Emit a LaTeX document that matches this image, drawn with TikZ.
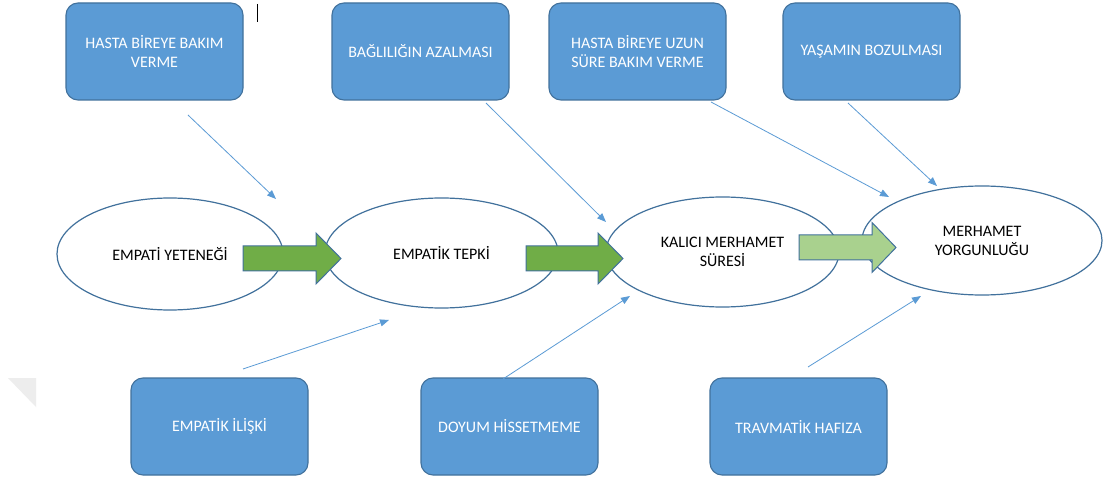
\documentclass[tikz,border=0pt]{standalone}
\usepackage{fontspec}
\setmainfont{Carlito}
\usetikzlibrary{shapes.geometric,arrows.meta}
\definecolor{boxblue}{HTML}{5B9BD5}
\definecolor{edgeblue}{HTML}{41719C}
\definecolor{darkgreen}{HTML}{70AD47}
\definecolor{lightgreen}{HTML}{A9D18E}
\definecolor{shadowgray}{HTML}{EDEDED}
\tikzset{
  causebox/.style={draw=edgeblue, line width=1.1pt, fill=boxblue, rounded corners=12pt,
    minimum width=177pt, minimum height=97pt, inner sep=4pt, align=center,
    text=white, font=\fontsize{16}{19}\selectfont},
  stagebox/.style={ellipse, draw=edgeblue, line width=1.2pt, fill=white, inner sep=0pt,
    align=center, text=black, font=\fontsize{16}{19}\selectfont},
  blockarrow/.style={draw=edgeblue, line width=1pt},
  influence/.style={draw=boxblue, line width=0.8pt, -{Triangle[length=9pt,width=7pt]}}
}
\begin{document}
\begin{tikzpicture}[x=1pt,y=-1pt]
\useasboundingbox (0,0) rectangle (1104,481);
\fill[white] (0,0) rectangle (1104,481);
% faint shadow at left
\fill[shadowgray] (8,378) -- (36,378) -- (36,407) -- cycle;
% text cursor
\draw[black, line width=1pt] (257,4) -- (257,22);

% cause boxes
\node[causebox] (b1) at (154.5,51.5) {HASTA BİREYE BAKIM\\VERME};
\node[causebox] (b2) at (420.5,51.5) {BAĞLILIĞIN AZALMASI};
\node[causebox] (b3) at (637.5,51.5) {HASTA BİREYE UZUN\\SÜRE BAKIM VERME};
\node[causebox] (b4) at (871.5,51.5) {YAŞAMIN BOZULMASI};
\node[causebox] (b5) at (219.5,426.5) {EMPATİK İLİŞKİ};
\node[causebox] (b6) at (509.5,426.5) {DOYUM HİSSETMEME};
\node[causebox] (b7) at (798.5,426.5) {TRAVMATİK HAFIZA};

% stages
\node[stagebox, minimum width=226pt, minimum height=112pt] (e1) at (170,254) {EMPATİ YETENEĞİ};
\node[stagebox, minimum width=233pt, minimum height=110pt] (e2) at (441.5,253) {EMPATİK TEPKİ};
\node[stagebox, minimum width=233pt, minimum height=110pt] (e3) at (722.5,252) {KALICI MERHAMET\\SÜRESİ};
\node[stagebox, minimum width=240pt, minimum height=109pt] (e4) at (982,240.5) {MERHAMET\\YORGUNLUĞU};

% block arrows
\draw[blockarrow, fill=darkgreen] (243,246) -- (316,246) -- (316,233) -- (341,258.5) -- (316,284) -- (316,271) -- (243,271) -- cycle;
\draw[blockarrow, fill=darkgreen] (526,246) -- (598,246) -- (598,233) -- (623,258.5) -- (598,284) -- (598,271) -- (526,271) -- cycle;
\draw[blockarrow, fill=lightgreen] (799,235) -- (872,235) -- (872,222.5) -- (896,247.5) -- (872,272.5) -- (872,260) -- (799,260) -- cycle;

% influence connectors
\coordinate (c1s) at (188,115);  \coordinate (c1e) at (276,199);
\coordinate (c2s) at (486,103);  \coordinate (c2e) at (606,222);
\coordinate (c3s) at (711,102);  \coordinate (c3e) at (889,197);
\coordinate (c4s) at (848,103);  \coordinate (c4e) at (937,186);
\coordinate (c5s) at (243,369);  \coordinate (c5e) at (389,320);
\coordinate (c6s) at (503,379);  \coordinate (c6e) at (630,296);
\coordinate (c7s) at (808,367);  \coordinate (c7e) at (921,296);
\draw[influence] (c1s) -- (c1e);
\draw[influence] (c2s) -- (c2e);
\draw[influence] (c3s) -- (c3e);
\draw[influence] (c4s) -- (c4e);
\draw[influence] (c5s) -- (c5e);
\draw[influence] (c6s) -- (c6e);
\draw[influence] (c7s) -- (c7e);
\end{tikzpicture}
\end{document}
